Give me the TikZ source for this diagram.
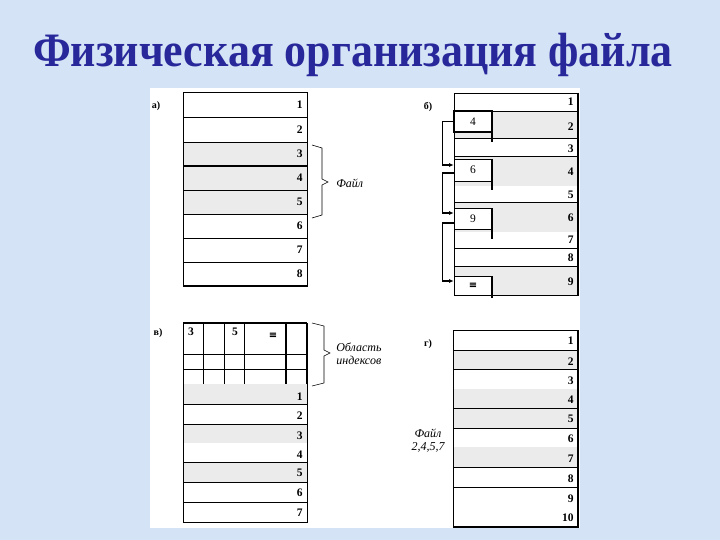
\documentclass[tikz,border=0pt]{standalone}
\usepackage{fontspec}
\setmainfont{Liberation Serif}
\newfontfamily\titlefont[FakeStretch=0.915]{Liberation Serif}
\newfontfamily\symfont{DejaVu Serif}
\usetikzlibrary{arrows.meta}
\definecolor{slidebg}{RGB}{212,227,246}
\definecolor{titleblue}{RGB}{40,40,155}
\definecolor{cellgray}{RGB}{235,235,235}
\tikzset{
    num/.style={anchor=east,inner sep=0pt,font=\fontsize{11.5}{12}\selectfont\bfseries},
    tag/.style={inner sep=0pt,font=\fontsize{10}{12}\selectfont\bfseries},
    note/.style={inner sep=0pt,font=\fontsize{12}{13}\selectfont\itshape},
    ptrbox/.style={draw,fill=white,minimum width=38pt,inner sep=0pt,font=\fontsize{11.5}{12}\selectfont},
    ptr/.style={-{Latex[length=4.5pt,width=4pt]},line width=1.3pt},
}
\newcommand{\eol}{{\symfont\fontsize{10}{12}\selectfont\bfseries ≡}}

\begin{document}
\begin{tikzpicture}[x=1pt,y=-1pt,line width=0.6pt]
    \useasboundingbox (0,0) rectangle (720,540);
    \fill[slidebg] (0,0) rectangle (720,540);
    \fill[white] (150,88) rectangle (580,528);
    \node[anchor=base,text=titleblue,inner sep=0pt,font=\titlefont\fontsize{48}{52}\selectfont\bfseries] (title) at (353,67) {Физическая организация файла};

    % a) contiguous
    \node[tag] (taga) at (156,106) {а)};
    \fill[cellgray] (183,142) rectangle (307,214);
    \foreach \y in {117,142,190,214,238,262}
        \draw (183,\y) -- (307,\y);
    \draw (183,92) rectangle (307,286);
    \draw[line width=1.5pt] (183,166) -- (307,166);
    \draw[line width=1.8pt] (183,286) -- (307,286);
    \foreach \n/\y in {1/105,2/130,3/154,4/178,5/202,6/226,7/250,8/274}
        \node[num] (a\n) at (303,\y) {\n};
    \draw (312,145) -- (322,148) -- (322,179) -- (328,182) -- (322,185) -- (322,215) -- (312,218);
    \node[note,anchor=west] (filea) at (336,183) {Файл};

    % b) linked
    \node[tag] (tagb) at (428,107) {б)};
    \fill[cellgray] (454,111) rectangle (578,138);
    \fill[cellgray] (454,156) rectangle (578,186);
    \fill[cellgray] (454,202) rectangle (578,232);
    \fill[cellgray] (454,266) rectangle (578,295);
    \foreach \y in {111,138,156,202,248,266}
        \draw (454,\y) -- (578,\y);
    \draw (454,93) rectangle (578,295);
    \draw[line width=1.5pt] (578,93) -- (578,295);
    \foreach \n/\y in {1/102,2/127,3/149,4/172,5/195,6/218,7/240,8/258,9/282}
        \node[num] (b\n) at (574,\y) {\n};
    \node[ptrbox,line width=1.3pt,minimum height=21pt] (ptr4) at (473,121.5) {4};
    \node[ptrbox,minimum height=22pt] (ptr6) at (473,170) {6};
    \node[ptrbox,minimum height=21pt] (ptr9) at (473,218.5) {9};
    \node[ptrbox,minimum height=19pt] (ptrend) at (473,285.5) {\eol};
    \draw[line width=1.8pt] (492,111) -- (492,142);
    \draw[line width=1.8pt] (492,159) -- (492,190);
    \draw[line width=1.8pt] (492,208) -- (492,239);
    \draw[line width=1.8pt] (492,276) -- (492,298);
    \draw[ptr] (ptr4.west) -- ++(-11,0) |- ([yshift=5pt]ptr6.west);
    \draw[ptr] ([yshift=-3pt]ptr6.west) -- ++(-11,0) |- ([yshift=5.5pt]ptr9.west);
    \draw[ptr] ([yshift=-4.5pt]ptr9.west) -- ++(-11,0) |- ([yshift=4.5pt]ptrend.west);

    % v) indexed
    \node[tag] (tagv) at (158,333) {в)};
    \fill[cellgray] (183,384) rectangle (307,404);
    \fill[cellgray] (183,424) rectangle (307,443);
    \fill[cellgray] (183,462) rectangle (307,482);
    \foreach \y in {354,369,404,424,462,482,502}
        \draw (183,\y) -- (307,\y);
    \foreach \x in {203,224,244}
        \draw (\x,323) -- (\x,384);
    \draw[line width=1.5pt] (286,323) -- (286,384);
    \draw[line width=1.5pt] (307,323) -- (307,384);
    \draw[line width=1.5pt] (183,323) -- (307,323);
    \draw (183,323) -- (183,522) -- (307,522) -- (307,384);
    \node[num,anchor=center] (iv3) at (191,332) {3};
    \node[num,anchor=center] (iv5) at (235,332) {5};
    \node[num,anchor=center] (ivend) at (273,336) {\eol};
    \foreach \n/\y in {1/397,2/416,3/436,4/455,5/473,6/493,7/513}
        \node[num] (v\n) at (303,\y) {\n};
    \draw (312,323) -- (324,326) -- (324,350) -- (330,353) -- (324,356) -- (324,383) -- (312,386);
    \node[note,anchor=west,align=left] (idxarea) at (336,354) {Область\\индексов};

    % g) clusters
    \node[tag] (tagg) at (428,344) {г)};
    \fill[cellgray] (453,350) rectangle (578,369);
    \fill[cellgray] (453,389) rectangle (578,428);
    \fill[cellgray] (453,447) rectangle (578,467);
    \foreach \y in {350,369,408,428,467,487}
        \draw (453,\y) -- (578,\y);
    \draw (453,330) rectangle (578,527);
    \draw[line width=1.5pt] (578,330) -- (578,527) -- (453,527);
    \foreach \n/\y in {1/341,2/362,3/381,4/400,5/419,6/439,7/459,8/479,9/499,10/518}
        \node[num] (g\n) at (574,\y) {\n};
    \node[note,align=center] (fileg) at (428,441) {Файл\\2,4,5,7};
\end{tikzpicture}
\end{document}
